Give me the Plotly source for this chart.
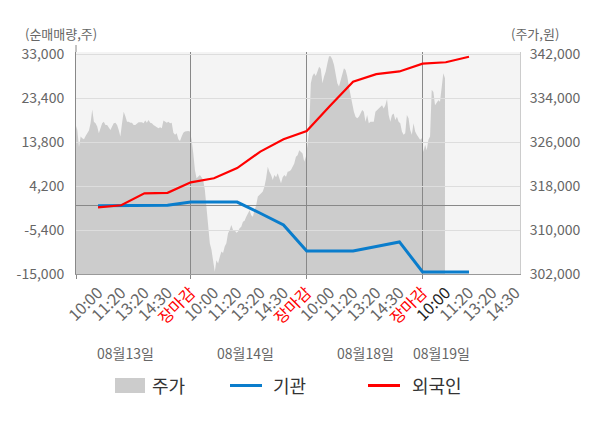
import plotly.graph_objects as go

FONT = "Noto Sans CJK KR, Noto Sans, sans-serif"

# ---------------- data ----------------
day_labels = ["08월13일", "08월14일", "08월18일", "08월19일"]
time_labels = ["10:00", "11:20", "13:20", "14:30", "장마감"]

# price (주가, 원) sampled through each trading day
price_day1 = [329100, 328200, 325100, 327000, 326700, 326500, 327100, 327600, 328100, 329400,
              331900, 329700, 329400, 328800, 327600, 328500, 329400, 329700, 329100, 329100,
              328500, 328200, 328800, 329400, 329500, 329100, 328200, 327000, 329400, 331500,
              330700, 329700, 329700, 329500, 329500, 329100, 329100, 329400, 329600, 329600,
              329600, 329400, 329900, 329500, 330000, 329500, 329400, 329100, 328900, 328800,
              328500, 328700, 328500, 329900, 329700, 329500, 329700, 329400, 329500, 327700,
              327300, 327600, 326500, 326200, 327000, 327700, 327900, 328000, 328000, 327900]
price_day2 = [326400, 324000, 320900, 319400, 319800, 320000, 319600, 319100, 317300, 314200,
              310000, 307600, 306400, 303900, 302400, 304500, 303900, 305100, 306100, 305800,
              307000, 307600, 309400, 310000, 310900, 310000, 310000, 309500, 309700, 310300,
              310600, 311500, 311700, 312400, 313000, 313600, 312700, 312400, 313600, 314500,
              316100, 316500, 316700, 317000, 317900, 319400, 321500, 320600, 320000, 319100,
              320000, 319600, 320300, 319400, 318500, 319600, 320000, 319700, 320600, 320700,
              320900, 321500, 322100, 323300, 323600, 324500, 324200, 323900, 322400, 323300]
price_day3 = [325500, 328200, 336700, 338000, 338500, 338000, 338800, 339700, 339300, 336700,
              337900, 338800, 340300, 341600, 341600, 341000, 340000, 338500, 336700, 336100,
              337300, 338500, 339400, 339100, 337900, 336100, 334200, 333000, 331500, 330600,
              330300, 330600, 331200, 331800, 331500, 329700, 330900, 329400, 329700, 329700,
              329700, 331500, 331800, 332100, 332400, 332700, 332100, 332700, 333800, 330900,
              329700, 330900, 331200, 330000, 330600, 329700, 329400, 327900, 327300, 327600,
              330900, 330300, 328200, 327300, 329400, 327900, 327300, 326700, 326400, 326700]
price_day4 = [324200, 325500, 324500, 326400, 327000, 335500, 335100, 332700, 333300, 333600,
              333300, 335500, 338500, 337600]
SAMPLES_PER_DAY = 70

# net buying (순매매량, 주) at each time slot (10:00 .. 장마감, then 19일 10:00, 11:20)
inst_net = [-100, -100, -50, 0, 700, 700, 700, -1750, -4300, -10000,
            -10000, -10000, -9000, -8000, -14550, -14550, -14550]          # 기관
foreign_net = [-450, 0, 2600, 2700, 5000, 5900, 8100, 11700, 14400, 16200,
               21650, 26950, 28600, 29200, 30900, 31200, 32400]            # 외국인

left_ticks = [-15000, -5400, 4200, 13800, 23400, 33000]
right_ticks = [302000, 310000, 318000, 326000, 334000, 342000]

# ---------------- axis positions ----------------
SLOT = 100          # axis units per trading day
STEP = 20           # axis units between time labels
price_days = [price_day1, price_day2, price_day3, price_day4]
price_x, price_y = [], []
for k, vals in enumerate(price_days):
    for j, v in enumerate(vals):
        price_x.append(k * SLOT + (j + 0.5) * SLOT / SAMPLES_PER_DAY)
        price_y.append(v)

flow_x = [STEP * (i + 1) for i in range(len(inst_net))]

tick_vals, tick_text = [], []
for k in range(4):
    for i, lab in enumerate(time_labels):
        if k == 3 and lab == "장마감":
            continue
        tick_vals.append(k * SLOT + STEP * (i + 1))
        if lab == "장마감":
            tick_text.append('<span style="color:#ff0000">장마감</span>')
        elif k == 3 and i == 0:
            tick_text.append('<span style="color:#222222">' + lab + '</span>')
        else:
            tick_text.append(lab)

XR = [1, 384]
YR_L = [-15000, 33436]
YR_R = [302000, 342364]

fig = go.Figure()
fig.add_trace(go.Scatter(x=price_x, y=price_y, name="주가", mode="lines",
                         line=dict(width=0, color="#cccccc"), fill="tozeroy",
                         fillcolor="#cccccc", xaxis="x", yaxis="y", hoverinfo="skip"))
fig.add_trace(go.Scatter(x=flow_x, y=inst_net, name="기관", mode="lines",
                         line=dict(width=3, color="#0a7dcc"), xaxis="x2", yaxis="y2"))
fig.add_trace(go.Scatter(x=flow_x, y=foreign_net, name="외국인", mode="lines",
                         line=dict(width=2.2, color="#ff0000"), xaxis="x2", yaxis="y2"))

# page body has an 8px margin: plot area should land at x 76..520, y 52..274
OFF = 8
ML, MT, PW, PH = 76 - OFF, 52 - OFF, 444, 222


def px(x):
    return (x - 76) / float(PW)


def py(y):
    return (274 - y) / float(PH)


shapes = [
    # plot background
    dict(type="rect", xref="paper", yref="paper", x0=0, x1=1, y0=0, y1=1,
         fillcolor="#f4f4f4", line=dict(width=0), layer="below"),
    # left axis line extension above plot
    dict(type="line", xref="paper", yref="paper", x0=0, x1=0, y0=1, y1=py(45),
         line=dict(color="#888888", width=1), layer="below"),
    # legend symbols
    dict(type="rect", xref="paper", yref="paper", x0=px(115), x1=px(145), y0=py(393), y1=py(378),
         fillcolor="#cccccc", line=dict(width=0)),
    dict(type="line", xref="paper", yref="paper", x0=px(230), x1=px(262), y0=py(385.5), y1=py(385.5),
         line=dict(color="#0a7dcc", width=3)),
    dict(type="line", xref="paper", yref="paper", x0=px(368), x1=px(400), y0=py(385.5), y1=py(385.5),
         line=dict(color="#ff0000", width=3)),
]

annotations = [
    dict(text="(순매매량,주)", xref="paper", yref="paper", x=px(61), y=py(34), showarrow=False,
         xanchor="center", yanchor="middle", font=dict(size=13, color="#666666", family=FONT)),
    dict(text="(주가,원)", xref="paper", yref="paper", x=px(535), y=py(34), showarrow=False,
         xanchor="center", yanchor="middle", font=dict(size=13, color="#666666", family=FONT)),
]
date_pos = [44, 147, 251, 316]
for lab, xv in zip(day_labels, date_pos):
    annotations.append(dict(text=lab, xref="x", yref="paper", x=xv, y=py(353), showarrow=False,
                            xanchor="center", yanchor="middle",
                            font=dict(size=14, color="#666666", family=FONT)))
for lab, xl in [("주가", 150), ("기관", 271), ("외국인", 410)]:
    annotations.append(dict(text=lab, xref="paper", yref="paper", x=px(xl), y=py(385), showarrow=False,
                            xanchor="left", yanchor="middle",
                            font=dict(size=18, color="#333333", family=FONT)))

fig.update_layout(
    width=600, height=428,
    margin=dict(l=ML, r=600 - ML - PW, t=MT, b=428 - MT - PH, autoexpand=False),
    paper_bgcolor="white", plot_bgcolor="rgba(0,0,0,0)",
    showlegend=False,
    font=dict(family=FONT, size=14, color="#666666"),
    xaxis=dict(domain=[0, 1], range=XR, anchor="y", tickmode="array", tickvals=tick_vals,
               ticktext=tick_text, tickangle=-45, showgrid=False, zeroline=False,
               showline=True, linecolor="#999999", ticks="", ticklabelstandoff=2,
               tickfont=dict(size=16, color="#666666", family=FONT)),
    yaxis=dict(domain=[0, 1], range=YR_R, anchor="x", side="right", tickmode="array",
               tickvals=right_ticks, ticktext=[f"{v:,}" for v in right_ticks],
               showgrid=False, zeroline=False, showline=True, linecolor="#cccccc", ticks="",
               ticklabelstandoff=6, tickfont=dict(size=14, color="#666666", family=FONT)),
    xaxis2=dict(domain=[0, 1], range=XR, anchor="y2", tickmode="array",
                tickvals=[1, SLOT, 2 * SLOT, 3 * SLOT], showticklabels=False,
                showgrid=True, gridcolor="#888888", gridwidth=1, ticks="outside", ticklen=4,
                tickcolor="#888888", zeroline=False, showline=True, linecolor="#999999"),
    yaxis2=dict(domain=[0, 1], range=YR_L, anchor="x2", side="left", tickmode="array",
                tickvals=left_ticks, ticktext=[f"{v:,}" for v in left_ticks],
                showgrid=True, gridcolor="#dddddd", zeroline=True, zerolinecolor="#888888",
                zerolinewidth=1, showline=True, linecolor="#888888", ticks="",
                ticklabelstandoff=8, tickfont=dict(size=14, color="#666666", family=FONT)),
    shapes=shapes,
    annotations=annotations,
)

fig.write_html("out.html")
